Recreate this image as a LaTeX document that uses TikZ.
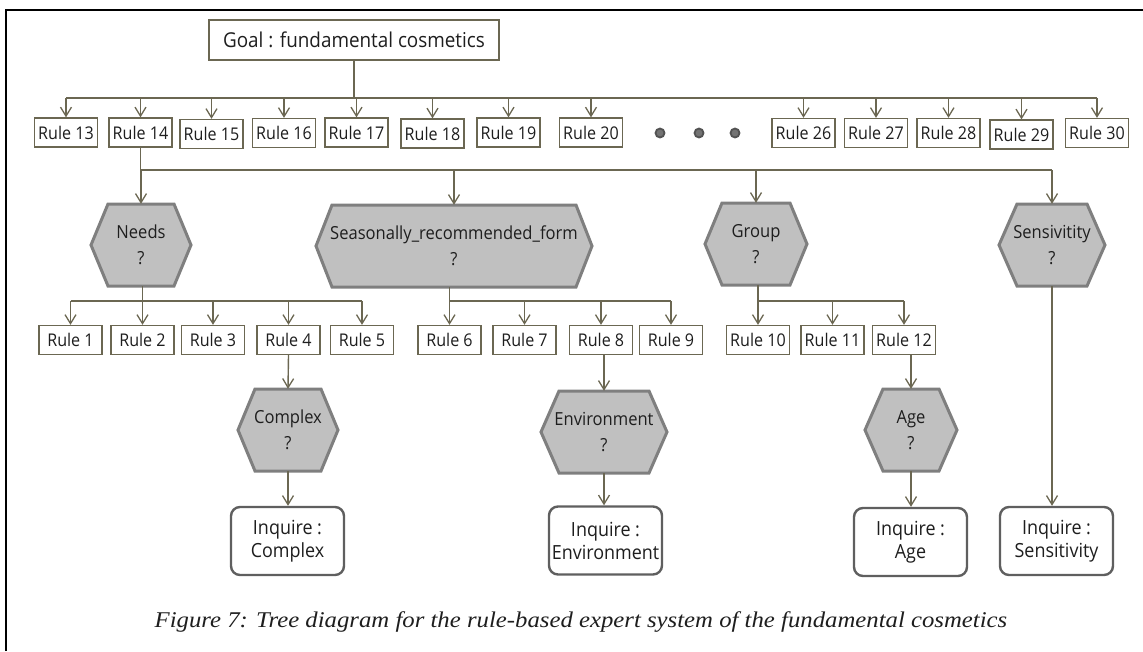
\documentclass[tikz,border=0pt]{standalone}
\usepackage{fontspec}
\setmainfont[FakeStretch=0.92]{Open Sans}
\newfontfamily\capfont[FakeStretch=1.1]{Liberation Serif}
\usetikzlibrary{arrows.meta,calc}
\definecolor{ln}{HTML}{6B6752}
\definecolor{hexfill}{HTML}{C0C0C0}
\definecolor{hexline}{HTML}{7F7F7F}
\definecolor{inqline}{HTML}{5F5F5F}
\definecolor{txt}{HTML}{1E1E1E}
\newcommand\hexnode[6]{% name, x, y, halfwidth, inset, text
  \filldraw[hexst] (#2-#4,#3) -- (#2-#4+#5,#3-41) -- (#2+#4-#5,#3-41) -- (#2+#4,#3) -- (#2+#4-#5,#3+41) -- (#2-#4+#5,#3+41) -- cycle;
  \node[hextext,minimum width=2*#4] (#1) at (#2,#3) {#6};}
\begin{document}
\begin{tikzpicture}[x=1pt,y=-1pt,
  conn/.style={draw=ln,line width=1.4},
  arr/.style={conn,-{Straight Barb[length=9pt,width=11pt,line width=1.3pt]}},
  rulebox/.style={draw=ln,line width=1.3,fill=white,minimum width=63,minimum height=29,inner sep=0pt,text=txt,font=\fontsize{17.5}{18}\selectfont},
  goalbox/.style={draw=ln,line width=1.5,fill=white,minimum width=290,minimum height=40,inner sep=0pt,text=txt,font=\fontsize{20.5}{22}\selectfont},
  hexst/.style={fill=hexfill,draw=hexline,line width=3,line join=miter},
  hextext/.style={minimum height=82,inner sep=0pt,align=center,text=txt,font=\fontsize{18}{26}\selectfont},
  inqbox/.style={draw=inqline,line width=2.4,fill=white,rounded corners=9,minimum width=113,minimum height=68,inner sep=0pt,align=center,text=txt,font=\fontsize{19.5}{23}\selectfont},
  dotst/.style={circle,fill=black!55,draw=black!68,line width=1.8,minimum size=9,inner sep=0pt}
]
\useasboundingbox (0,0) rectangle (1143,651);
\draw[black,line width=2.2] (6,651) -- (6,10) -- (1143,10);

% goal
\node[goalbox] (goal) at (354,40) {Goal : fundamental cosmetics};

% top rules
\node[rulebox] (r13) at (66,132.5) {Rule 13};
\node[rulebox] (r14) at (140.5,132.5) {Rule 14};
\node[rulebox] (r15) at (211.5,134) {Rule 15};
\node[rulebox] (r16) at (284,133) {Rule 16};
\node[rulebox] (r17) at (356.5,132.5) {Rule 17};
\node[rulebox] (r18) at (432.5,133.5) {Rule 18};
\node[rulebox] (r19) at (508.5,132.5) {Rule 19};
\node[rulebox] (r20) at (591,132.5) {Rule 20};
\node[dotst] (d1) at (660,133) {};
\node[dotst] (d2) at (699,133) {};
\node[dotst] (d3) at (735,133) {};
\node[rulebox] (r26) at (803.5,133) {Rule 26};
\node[rulebox] (r27) at (876,133) {Rule 27};
\node[rulebox] (r28) at (948.5,133) {Rule 28};
\node[rulebox] (r29) at (1021.5,134.5) {Rule 29};
\node[rulebox] (r30) at (1097,133) {Rule 30};

\draw[conn] (goal.south) -- (goal.south |- 0,98);
\draw[conn] (r13.north |- 0,98) -- (r30.north |- 0,98);
\foreach \n in {r13,r14,r15,r16,r17,r18,r19,r20,r26,r27,r28,r29,r30}
  \draw[arr] (\n.north |- 0,98) -- (\n.north);

% hexagons level 1
\hexnode{needs}{141}{245}{50}{17}{Needs\\?}
\hexnode{seas}{454}{246}{138}{16}{Seasonally\_recommended\_form\\?}
\hexnode{group}{756}{244}{51}{17}{Group\\?}
\hexnode{sens}{1052}{245}{53}{18}{Sensivitity\\?}

\draw[conn] (r14.south) -- (r14.south |- 0,170);
\draw[conn] (r14.south |- 0,170) -- (sens.north |- 0,170);
\foreach \n in {needs,seas,group,sens}
  \draw[arr] (\n.north |- 0,170) -- (\n.north);

% lower rules
\node[rulebox] (r1) at (70.5,340) {Rule 1};
\node[rulebox] (r2) at (142.5,340) {Rule 2};
\node[rulebox] (r3) at (213,340) {Rule 3};
\node[rulebox] (r4) at (288.5,340) {Rule 4};
\node[rulebox] (r5) at (362,340) {Rule 5};
\node[rulebox] (r6) at (449.5,340) {Rule 6};
\node[rulebox] (r7) at (524.5,340) {Rule 7};
\node[rulebox] (r8) at (601,340) {Rule 8};
\node[rulebox] (r9) at (671,340) {Rule 9};
\node[rulebox] (r10) at (758,340) {Rule 10};
\node[rulebox] (r11) at (832.5,340) {Rule 11};
\node[rulebox] (r12) at (904,340) {Rule 12};

\draw[conn] (r2.north |- needs.south) -- (r2.north |- 0,301);
\draw[conn] (r1.north |- 0,301) -- (r5.north |- 0,301);
\foreach \n in {r1,r2,r3,r4,r5}
  \draw[arr] (\n.north |- 0,301) -- (\n.north);

\draw[conn] (r6.north |- seas.south) -- (r6.north |- 0,301);
\draw[conn] (r6.north |- 0,301) -- (r9.north |- 0,301);
\foreach \n in {r6,r7,r8,r9}
  \draw[arr] (\n.north |- 0,301) -- (\n.north);

\draw[conn] (r10.north |- group.south) -- (r10.north |- 0,301);
\draw[conn] (r10.north |- 0,301) -- (r12.north |- 0,301);
\foreach \n in {r10,r11,r12}
  \draw[arr] (\n.north |- 0,301) -- (\n.north);

% hexagons level 2
\hexnode{cplx}{288}{430}{50}{17}{Complex\\?}
\hexnode{env}{604}{432}{63}{18}{Environment\\?}
\hexnode{age}{911}{430}{46}{18}{Age\\?}

\draw[arr] (r4.south) -- (cplx.north);
\draw[arr] (env.north |- r8.south) -- (env.north);
\draw[arr] (age.north |- r12.south) -- (age.north);

% inquire boxes
\node[inqbox] (ic) at (287.5,541) {Inquire :\\Complex};
\node[inqbox] (ie) at (605.5,540.5) {Inquire :\\Environment};
\node[inqbox] (ia) at (910.5,542) {Inquire :\\Age};
\node[inqbox] (is) at (1056.5,541) {Inquire :\\Sensitivity};

\draw[arr] (cplx.south) -- (cplx.south |- ic.north);
\draw[arr] (env.south) -- (env.south |- ie.north);
\draw[arr] (age.south) -- (age.south |- ia.north);
\draw[arr] (sens.south) -- (sens.south |- is.north);

% caption
\node[text=txt,font=\capfont\itshape\fontsize{22.5}{26}\selectfont] (cap) at (581,622) {Figure 7: Tree diagram for the rule-based expert system of the fundamental cosmetics};
\end{tikzpicture}
\end{document}
